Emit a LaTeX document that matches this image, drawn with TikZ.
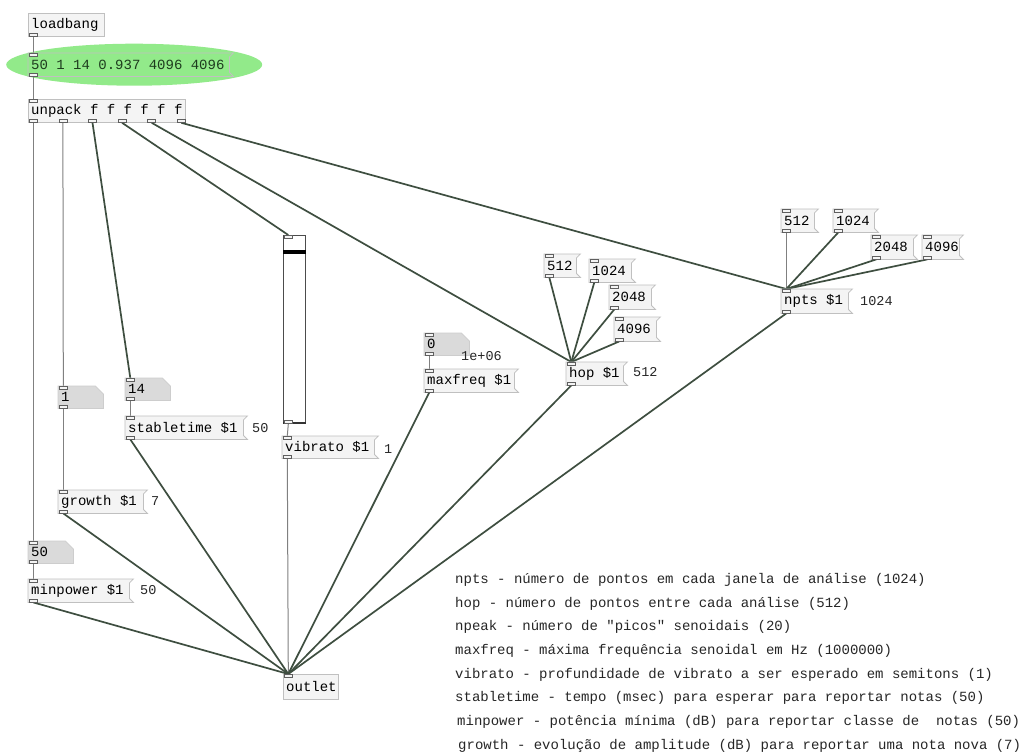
\documentclass[tikz,border=0pt]{standalone}
\usepackage{fontspec}
\setmonofont{Liberation Mono}
\usetikzlibrary{backgrounds}
\definecolor{boxfill}{RGB}{244,244,244}
\definecolor{boxline}{RGB}{192,192,192}
\definecolor{numfill}{RGB}{218,218,218}
\definecolor{numline}{RGB}{205,205,205}
\definecolor{sigc}{RGB}{62,78,64}
\definecolor{ctlc}{RGB}{128,128,128}
\definecolor{portc}{RGB}{95,95,95}
\definecolor{ellgreen}{RGB}{146,234,138}
\definecolor{msgtext}{RGB}{30,60,30}
\tikzset{
  pdtext/.style={font=\ttfamily\fontsize{14}{14}\selectfont, anchor=west, inner sep=0pt, text=black},
  lbl/.style={font=\ttfamily\fontsize{13.5}{13.5}\selectfont, anchor=west, inner sep=0pt, text=black!85},
  desc/.style={font=\ttfamily\fontsize{14}{14}\selectfont, anchor=west, inner sep=0pt, text=black!85},
  frame/.style={anchor=north west, inner sep=0pt, draw=none},
  objbox/.style={frame, draw=boxline, fill=boxfill, line width=0.8pt},
  port/.style={draw=portc, fill=boxfill, line width=0.6pt, minimum width=8pt, minimum height=3pt, inner sep=0pt},
  ctl/.style={draw=ctlc, line width=1pt},
  sig/.style={draw=sigc, line width=1.7pt},
}
\newcommand\pdobj[6]{%
  \node[objbox, minimum width=#4pt, minimum height=#5pt] (#1) at (#2,#3) {};
  \node[pdtext] (#1-t) at ([xshift=3pt]#1.west) {#6};}
\newcommand\pdmsg[7]{%
  \node[frame, minimum width=#4pt, minimum height=#5pt] (#1) at (#2,#3) {};
  \draw[draw=boxline, fill=#6, line width=0.8pt] (#1.north west) -- ([xshift=4pt]#1.north east)
     -- ([yshift=-4pt]#1.north east) -- ([yshift=4pt]#1.south east)
     -- ([xshift=4pt]#1.south east) -- (#1.south west) -- cycle;
  \node[pdtext] (#1-t) at ([xshift=3pt]#1.west) {#7};}
\newcommand\pdnum[4]{%
  \node[frame, minimum width=45pt, minimum height=22pt] (#1) at (#2,#3) {};
  \draw[draw=numline, fill=numfill, line width=0.8pt] (#1.north west) -- ([xshift=-8pt]#1.north east)
     -- ([yshift=-8pt]#1.north east) -- (#1.south east) -- (#1.south west) -- cycle;
  \node[pdtext] (#1-t) at ([xshift=3pt]#1.west) {#4};}
\newcommand\inl[1]{\node[port, anchor=north west] (#1-i) at ([xshift=1pt]#1.north west) {};}
\newcommand\outl[1]{\node[port, anchor=south west] (#1-o) at ([xshift=1pt]#1.south west) {};}
\newcommand\inout[1]{\inl{#1}\outl{#1}}
\begin{document}
\begin{tikzpicture}[x=1pt,y=-1pt]
\useasboundingbox (0,0) rectangle (1027,752);
\begin{scope}[on background layer]
  \fill[white] (0,0) rectangle (1027,752);
\end{scope}

% boxes
\pdobj{loadbang}{28}{13}{76}{23}{loadbang}
\pdmsg{init}{28}{53}{201}{23}{none}{\color{msgtext}50 1 14 0.937 4096 4096}
\pdobj{unpack}{28}{99}{157}{23}{unpack f f f f f f}

\pdnum{nA}{28}{541}{50}
\pdmsg{minpower}{28}{579}{101}{23}{boxfill}{minpower \$1}
\pdnum{nB}{58}{386}{1}
\pdmsg{growth}{58}{490}{85}{23}{boxfill}{growth \$1}
\pdnum{nC}{125}{378}{14}
\pdmsg{stable}{125}{416}{118}{23}{boxfill}{stabletime \$1}

\node[frame, draw=black!70, fill=white, line width=0.9pt, minimum width=22pt, minimum height=188pt] (slider) at (283,235) {};
\fill[black] ([yshift=-15pt]slider.north west) rectangle ([yshift=-19pt]slider.north east);
\fill[black!80] ([yshift=2pt]slider.south west) rectangle (slider.south east);

\pdmsg{vibrato}{282}{436}{92}{22}{boxfill}{vibrato \$1}
\pdnum{nD}{424}{333}{0}
\pdmsg{maxfreq}{424}{369}{90}{23}{boxfill}{maxfreq \$1}

\pdmsg{hA}{544}{254}{32}{23}{boxfill}{512}
\pdmsg{hB}{589}{259}{42}{23}{boxfill}{1024}
\pdmsg{hC}{609}{285}{42}{24}{boxfill}{2048}
\pdmsg{hD}{614}{317}{42}{24}{boxfill}{4096}
\pdmsg{hop}{566}{362}{57}{23}{boxfill}{hop \$1}

\pdmsg{pA}{781}{209}{33}{23}{boxfill}{512}
\pdmsg{pB}{833}{209}{41}{23}{boxfill}{1024}
\pdmsg{pC}{871}{235}{42}{24}{boxfill}{2048}
\pdmsg{pD}{922}{235}{37}{24}{boxfill}{4096}
\pdmsg{npts}{781}{289}{67}{24}{boxfill}{npts \$1}

\pdobj{outlet}{283}{674}{55}{25}{outlet}

% ports
\outl{loadbang}
\inout{init}
\inl{unpack}
\foreach \k [evaluate=\k as \off using {1+(\k-1)*29.6}] in {1,...,6}
  {\node[port, anchor=south west] (unpack-o\k) at ([xshift=\off pt]unpack.south west) {};}
\inout{nA}\inout{minpower}\inout{nB}\inout{growth}\inout{nC}\inout{stable}
\inout{slider}\inout{vibrato}\inout{nD}\inout{maxfreq}
\inout{hA}\inout{hB}\inout{hC}\inout{hD}\inout{hop}
\inout{pA}\inout{pB}\inout{pC}\inout{pD}\inout{npts}
\inl{outlet}

% labels
\node[lbl] (lminpower) at (140,590) {50};
\node[lbl] (lgrowth) at (151,501) {7};
\node[lbl] (lstable) at (252,428) {50};
\node[lbl] (lvibrato) at (384,449) {1};
\node[lbl] (lmaxfreq) at (461,356) {1e+06};
\node[lbl] (lhop) at (633,372) {512};
\node[lbl] (lnpts) at (860,301) {1024};

% description
\node[desc] (d1) at (455,580) {npts - número de pontos em cada janela de análise (1024)};
\node[desc] (d2) at (455,604) {hop - número de pontos entre cada análise (512)};
\node[desc] (d3) at (455,627) {npeak - número de "picos" senoidais (20)};
\node[desc] (d4) at (455,651) {maxfreq - máxima frequência senoidal em Hz (1000000)};
\node[desc] (d5) at (455,675) {vibrato - profundidade de vibrato a ser esperado em semitons (1)};
\node[desc] (d6) at (455,698) {stabletime - tempo (msec) para esperar para reportar notas (50)};
\node[desc] (d7) at (457,722) {minpower - potência mínima (dB) para reportar classe de\ \ notas (50)};
\node[desc] (d8) at (458,746) {growth - evolução de amplitude (dB) para reportar uma nota nova (7)};

% connections
\begin{scope}[on background layer]
  \fill[ellgreen] ([xshift=5.5pt]init.center) ellipse [x radius=128pt, y radius=21pt];
  \draw[ctl] (loadbang-o.south) -- (init-i.north);
  \draw[ctl] (init-o.south) -- (unpack-i.north);
  \draw[ctl] (unpack-o1.south) -- (nA-i.north);
  \draw[ctl] (unpack-o2.south) -- (nB-i.north);
  \draw[sig] (unpack-o3.south) -- (nC-i.north);
  \draw[sig] (unpack-o4.south) -- (slider-i.north);
  \draw[sig] (unpack-o5.south) -- (hop-i.north);
  \draw[sig] (unpack-o6.south) -- (npts-i.north);
  \draw[ctl] (nA-o.south) -- (minpower-i.north);
  \draw[ctl] (nB-o.south) -- (growth-i.north);
  \draw[ctl] (nC-o.south) -- (stable-i.north);
  \draw[ctl] (nD-o.south) -- (maxfreq-i.north);
  \draw[ctl] (slider-o.south) -- (vibrato-i.north);
  \draw[ctl] (vibrato-o.south) -- (outlet-i.north);
  \draw[sig] (minpower-o.south) -- (outlet-i.north);
  \draw[sig] (growth-o.south) -- (outlet-i.north);
  \draw[sig] (stable-o.south) -- (outlet-i.north);
  \draw[sig] (maxfreq-o.south) -- (outlet-i.north);
  \draw[sig] (hop-o.south) -- (outlet-i.north);
  \draw[sig] (npts-o.south) -- (outlet-i.north);
  \draw[sig] (hA-o.south) -- (hop-i.north);
  \draw[sig] (hB-o.south) -- (hop-i.north);
  \draw[sig] (hC-o.south) -- (hop-i.north);
  \draw[sig] (hD-o.south) -- (hop-i.north);
  \draw[ctl] (pA-o.south) -- (npts-i.north);
  \draw[sig] (pB-o.south) -- (npts-i.north);
  \draw[sig] (pC-o.south) -- (npts-i.north);
  \draw[sig] (pD-o.south) -- (npts-i.north);
\end{scope}
\end{tikzpicture}
\end{document}
